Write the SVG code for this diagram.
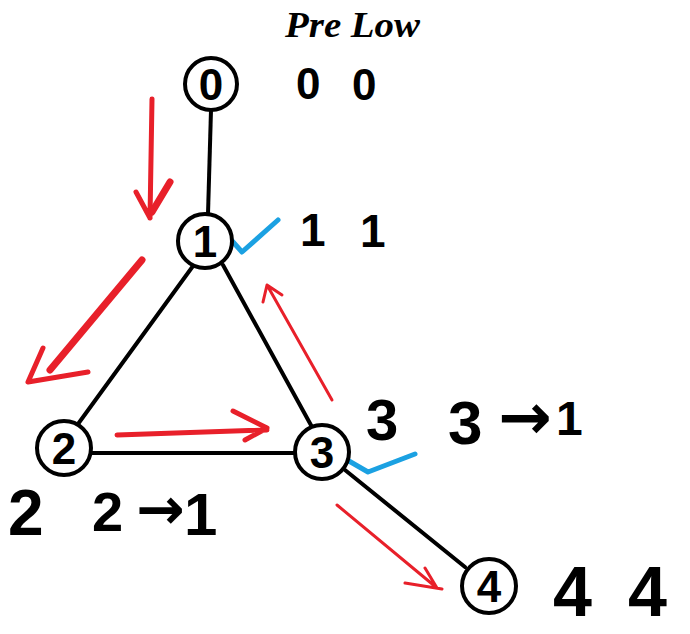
<svg xmlns="http://www.w3.org/2000/svg" width="690" height="634" viewBox="0 0 690 634">
<style>
.edge{stroke:#000;stroke-width:4;fill:none;stroke-linecap:round}
.node circle{fill:#fff;stroke:#000;stroke-width:4}
.nl{font-family:"Liberation Sans",Arial,sans-serif;font-weight:bold;font-size:44px;text-anchor:middle;fill:#000}
.lbl{font-family:"Liberation Sans",Arial,sans-serif;font-weight:bold;fill:#000}
.arr{font-family:"DejaVu Sans",sans-serif;font-weight:bold;fill:#000}
.red{stroke:#e8202a;fill:none;stroke-linecap:round;stroke-linejoin:round}
.blue{stroke:#1ba1e2;fill:none;stroke-linecap:round;stroke-linejoin:round}
</style>
<rect width="690" height="634" fill="#fff"/>
<text x="285" y="37" font-family="Liberation Serif,serif" font-style="italic" font-weight="bold" font-size="36" textLength="135" lengthAdjust="spacingAndGlyphs">Pre Low</text>
<g id="connectors">
<line class="edge" x1="211" y1="110" x2="208" y2="214"/>
<line class="edge" x1="193" y1="266" x2="78" y2="424"/>
<line class="edge" x1="223" y1="265" x2="312" y2="427"/>
<line class="edge" x1="91" y1="453" x2="296" y2="453"/>
<line class="edge" x1="345" y1="470" x2="465" y2="567"/>
</g>
<g id="red-arrows">
<path class="red" stroke-width="5" d="M152 99 L150 218 M136 192 L150 218"/>
<path class="red" stroke-width="7" d="M170 182 L152 212"/>
<path class="red" stroke-width="7" d="M142 260 L50 370"/>
<path class="red" stroke-width="5" d="M43 348 L28 382 L88 372"/>
<path class="red" stroke-width="5" d="M117 435 L267 430 M233 411 L267 428 L245 440"/>
<path class="red" stroke-width="3" d="M332 400 L267 285 M263 302 L267 285 L282 295"/>
<path class="red" stroke-width="3" d="M337 505 L437 588 M425 568 L437 588 M405 583 L442 589"/>
</g>
<g id="blue-checks">
<path class="blue" stroke-width="5" d="M225 233 L242 252 L278 220"/>
<path class="blue" stroke-width="5" d="M342 457 L368 472 L415 454"/>
</g>
<g id="node0" class="node"><circle cx="211" cy="84" r="26"/><text class="nl" x="211" y="100">0</text></g>
<g id="node1" class="node"><circle cx="205" cy="241" r="27"/><text class="nl" x="205" y="257">1</text></g>
<g id="node2" class="node"><circle cx="64" cy="448" r="27"/><text class="nl" x="64" y="464">2</text></g>
<g id="node3" class="node"><circle cx="322" cy="452" r="27"/><text class="nl" x="322" y="468">3</text></g>
<g id="node4" class="node"><circle cx="489" cy="586" r="27"/><text class="nl" x="489" y="602">4</text></g>
<g id="labels">
<text class="lbl" x="296" y="99" font-size="44">0</text>
<text class="lbl" x="352" y="100" font-size="44">0</text>
<text class="lbl" x="300" y="246" font-size="46">1</text>
<text class="lbl" x="360" y="247" font-size="46">1</text>
<text class="lbl" x="366" y="440" font-size="58">3</text>
<text class="lbl" x="448" y="444" font-size="62">3</text>
<text class="arr" x="498" y="439" font-size="64">→</text>
<text class="lbl" x="556" y="435" font-size="48">1</text>
<text class="lbl" x="8" y="535" font-size="64">2</text>
<text class="lbl" x="92" y="531" font-size="56">2</text>
<text class="arr" x="136" y="529" font-size="58">→</text>
<text class="lbl" x="184" y="535" font-size="60">1</text>
<text class="lbl" x="553" y="616" font-size="70">4</text>
<text class="lbl" x="628" y="616" font-size="70">4</text>
</g>
</svg>
